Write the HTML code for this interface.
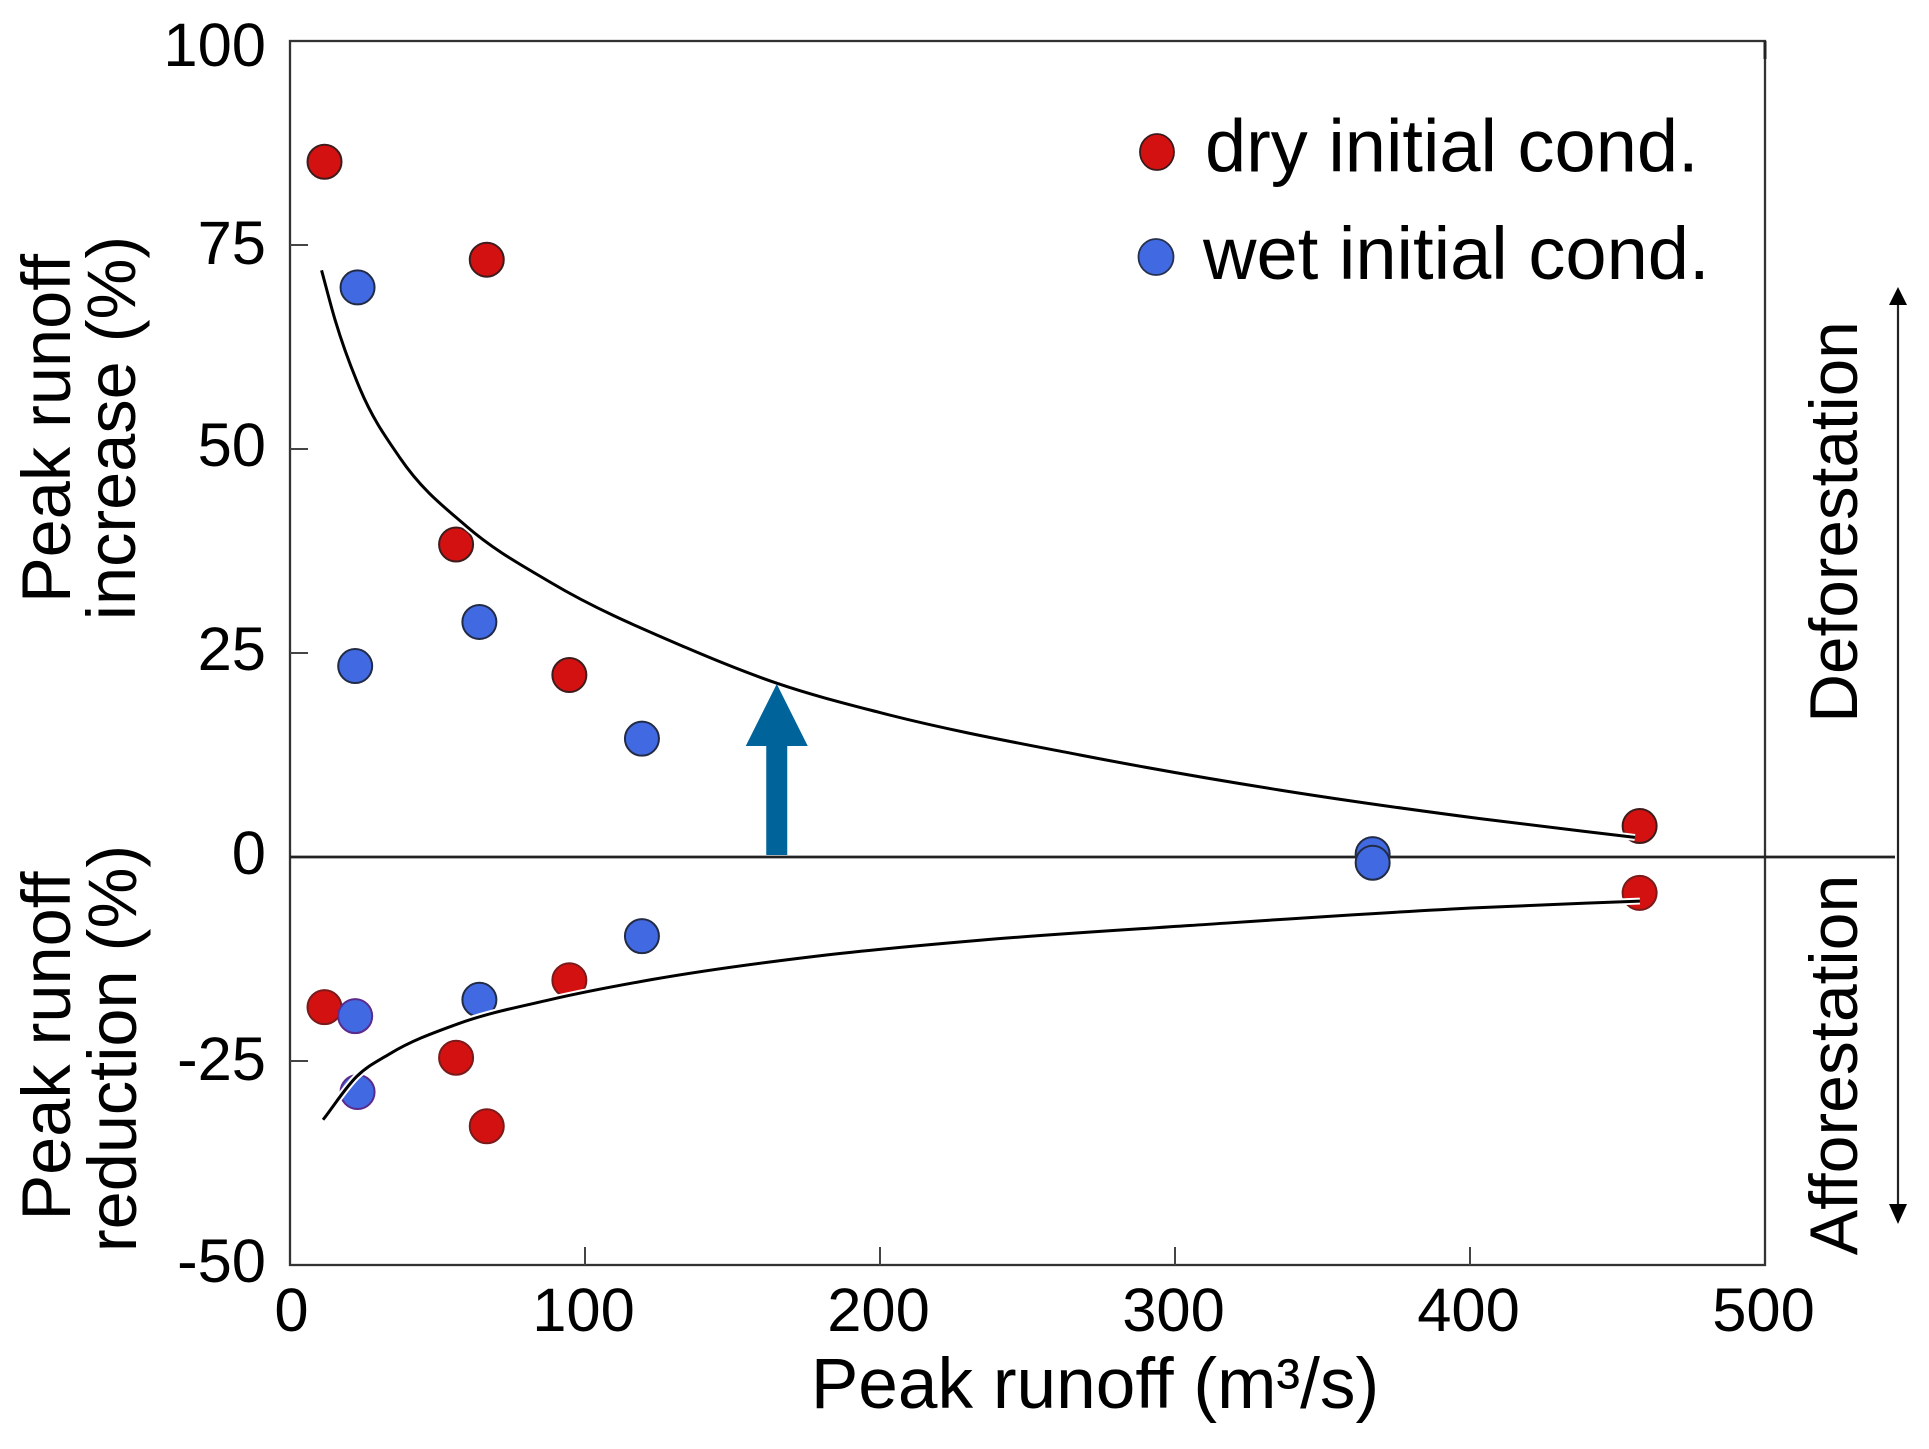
<!DOCTYPE html>
<html lang="en">
<head>
<meta charset="utf-8">
<title>Peak runoff chart</title>
<style>
html,body{margin:0;padding:0;background:#fff;width:1929px;height:1449px;overflow:hidden}
svg{display:block}
text{font-family:"Liberation Sans",sans-serif;fill:#000}
</style>
</head>
<body>
<svg id="chart" xmlns="http://www.w3.org/2000/svg" width="1929" height="1449" viewBox="0 0 1929 1449">
  <rect width="1929" height="1449" fill="#fff"/>
  <g id="axes"></g>
  <g id="points"></g>
  <g id="curves"></g>
  <g id="annot"></g>

  <text x="1095" y="1408" font-size="71.2" text-anchor="middle">Peak runoff (m³/s)</text>
  <text transform="translate(70,428.5) rotate(-90)" font-size="68.5" text-anchor="middle">Peak runoff</text>
  <text transform="translate(135,428) rotate(-90)" font-size="68.5" text-anchor="middle">increase (%)</text>
  <text transform="translate(70,1046) rotate(-90)" font-size="68.5" text-anchor="middle">Peak runoff</text>
  <text transform="translate(136,1048.5) rotate(-90)" font-size="68.5" text-anchor="middle">reduction (%)</text>
  <text transform="translate(1857,522) rotate(-90)" font-size="67.5" text-anchor="middle">Deforestation</text>
  <text transform="translate(1857,1065) rotate(-90)" font-size="68" text-anchor="middle">Afforestation</text>

  <g>
    <ellipse cx="1157" cy="152" rx="17" ry="18" fill="#d41111" stroke="#3a1a1a" stroke-width="1.8"/>
    <text x="1205" y="171.5" font-size="74">dry initial cond.</text>
    <ellipse cx="1156" cy="257" rx="17.5" ry="18" fill="#4169e1" stroke="#26304f" stroke-width="1.8"/>
    <text x="1203" y="279" font-size="74.1">wet initial cond.</text>
  </g>
</svg>
<script>
// ---- chart data ----
var xTicks = [0, 100, 200, 300, 400, 500];
var yTicks = [100, 75, 50, 25, 0, -25, -50];

var dryX = [11.7, 66.7, 56.3, 94.7, 457.5];
var dryIncrease = [85.2, 73.2, 38.3, 22.3, 3.8];
var dryReduction = [-18.4, -33, -24.6, -15.1, -4.4];

var wetX = [22.9, 22.1, 64.2, 119.3, 367];
var wetIncrease = [69.8, 23.4, 28.8, 14.5, 0.35];
var wetReduction = [-28.8, -19.5, -17.5, -9.7, -0.7];

var upperCurveX = [10.7, 15.3, 23.7, 37.3, 59.9, 88.1, 134, 165, 200, 267.8, 335.6, 403.4, 455.9];
var upperCurveY = [71.9, 65.8, 57.4, 48.9, 40.5, 33.7, 25.7, 21.3, 17.7, 12.5, 8.2, 4.7, 2.4];

var lowerCurveX = [11.2, 22.6, 33.9, 56.5, 88, 123, 179.7, 233.9, 305, 403.4, 457.6];
var lowerCurveY = [-32.2, -26.9, -24.1, -20.5, -17.5, -15, -12.1, -10.2, -8.4, -6.2, -5.4];

var arrowValueX = [165];
var arrowValueY = [0, 21.2];

// ---- axis functions ----
function sx(v){ return 290 + v * 2.95; }
function sy(v){ return 857 - v * 8.16; }

var NS = 'http://www.w3.org/2000/svg';
function make(parent, tag, attrs){
  var el = document.createElementNS(NS, tag);
  for (var k in attrs) el.setAttribute(k, attrs[k]);
  parent.appendChild(el);
  return el;
}

var axes = document.getElementById('axes');
var pts = document.getElementById('points');
var curves = document.getElementById('curves');
var annot = document.getElementById('annot');

// frame
var frame = make(axes, 'rect', {x: sx(0), y: sy(100), width: sx(500) - sx(0), height: sy(-50) - sy(100), fill: 'none', stroke: '#333', 'stroke-width': 2.3});



var zero = make(axes, 'line', {x1: sx(0), x2: 1895, y1: sy(0), y2: sy(0), stroke: '#222', 'stroke-width': 2.8});



var corner = make(axes, 'line', {x1: sx(500), x2: sx(500), y1: sy(100), y2: sy(100) + 18, stroke: '#222', 'stroke-width': 3});



// x ticks and labels
xTicks.forEach(function(v){
  if (v !== 0 && v !== 500) {
    var t = make(axes, 'line', {x1: sx(v), x2: sx(v), y1: sy(-50), y2: sy(-50) - 18, stroke: '#444', 'stroke-width': 2});
    
    
  }
  var l = make(axes, 'text', {x: sx(v) + (v === 0 ? 1.5 : -1.5), y: 1331, 'font-size': 61.5, 'text-anchor': 'middle'});
  l.textContent = String(v);
  
  
});

// y ticks and labels
yTicks.forEach(function(v){
  if (v !== 100 && v !== 0 && v !== -50) {
    var t = make(axes, 'line', {x1: sx(0), x2: sx(0) + 18, y1: sy(v), y2: sy(v), stroke: '#444', 'stroke-width': 2});
    
    
  }
  var dy = v === 100 ? 25 : ((v === 75 || v === -25) ? 19 : 17);
  var l = make(axes, 'text', {x: 266, y: sy(v) + dy, 'font-size': 61.5, 'text-anchor': 'end'});
  l.textContent = String(v);
  
  
});

// points
function drawPoint(x, y, fill, stroke, name){
  var c = make(pts, 'circle', {cx: sx(x), cy: sy(y), r: 17, fill: fill, stroke: stroke, 'stroke-width': 2});
  
  
}
dryX.forEach(function(x, i){
  drawPoint(x, dryIncrease[i], '#d41111', '#3f1c1c', 'dry-increase-point-' + i);
  drawPoint(x, dryReduction[i], '#d41111', '#7a1a1a', 'dry-reduction-point-' + i);
});
wetX.forEach(function(x, i){
  drawPoint(x, wetIncrease[i], '#4169e1', '#222b45', 'wet-increase-point-' + i);
  var purple = i < 2;
  drawPoint(x, wetReduction[i], '#4169e1', purple ? '#5b2a8c' : '#222b45', 'wet-reduction-point-' + i);
});

// curves: smooth non-uniform Hermite spline through the read points
function smoothPath(xs, ys){
  var p = xs.map(function(x, i){ return [sx(x), sy(ys[i])]; });
  var n = p.length, m = [];
  for (var i = 0; i < n; i++) {
    if (i === 0) {
      m[i] = (p[1][1] - p[0][1]) / (p[1][0] - p[0][0]);
    } else if (i === n - 1) {
      m[i] = (p[n - 1][1] - p[n - 2][1]) / (p[n - 1][0] - p[n - 2][0]);
    } else {
      var h0 = p[i][0] - p[i - 1][0], h1 = p[i + 1][0] - p[i][0];
      var s0 = (p[i][1] - p[i - 1][1]) / h0, s1 = (p[i + 1][1] - p[i][1]) / h1;
      m[i] = (s0 * h1 + s1 * h0) / (h0 + h1);
    }
  }
  var d = 'M' + p[0][0] + ' ' + p[0][1];
  for (var j = 0; j < n - 1; j++) {
    var h = (p[j + 1][0] - p[j][0]) / 3;
    d += ' C' + (p[j][0] + h) + ' ' + (p[j][1] + m[j] * h) + ' ' +
         (p[j + 1][0] - h) + ' ' + (p[j + 1][1] - m[j + 1] * h) + ' ' + p[j + 1][0] + ' ' + p[j + 1][1];
  }
  return d;
}
[[upperCurveX, upperCurveY, 'upper'], [lowerCurveX, lowerCurveY, 'lower']].forEach(function(s){
  var d = smoothPath(s[0], s[1]);
  var halo = make(curves, 'path', {d: d, fill: 'none', stroke: '#fff', 'stroke-width': 7});
  
  
  var line = make(curves, 'path', {d: d, fill: 'none', stroke: '#000', 'stroke-width': 3, 'stroke-linecap': 'butt', 'stroke-linejoin': 'round'});
  
  
});

// big blue arrow
var ax = sx(arrowValueX[0]), ay0 = sy(arrowValueY[0]) - 2, ay1 = sy(arrowValueY[1]);
var big = make(annot, 'polygon', {
  points: [[ax - 10.5, ay0], [ax - 10.5, ay1 + 62], [ax - 31, ay1 + 62], [ax, ay1], [ax + 31, ay1 + 62], [ax + 10.5, ay1 + 62], [ax + 10.5, ay0]].join(' '),
  fill: '#00649a'
});



// right-side double arrow
var side = make(annot, 'line', {x1: 1898, x2: 1898, y1: 300, y2: 1208, stroke: '#222', 'stroke-width': 2.2});


var up = make(annot, 'polygon', {points: '1898,287 1889,305 1907,305', fill: '#000'});


var down = make(annot, 'polygon', {points: '1898,1224 1889,1204 1907,1204', fill: '#000'});


</script>
</body>
</html>
